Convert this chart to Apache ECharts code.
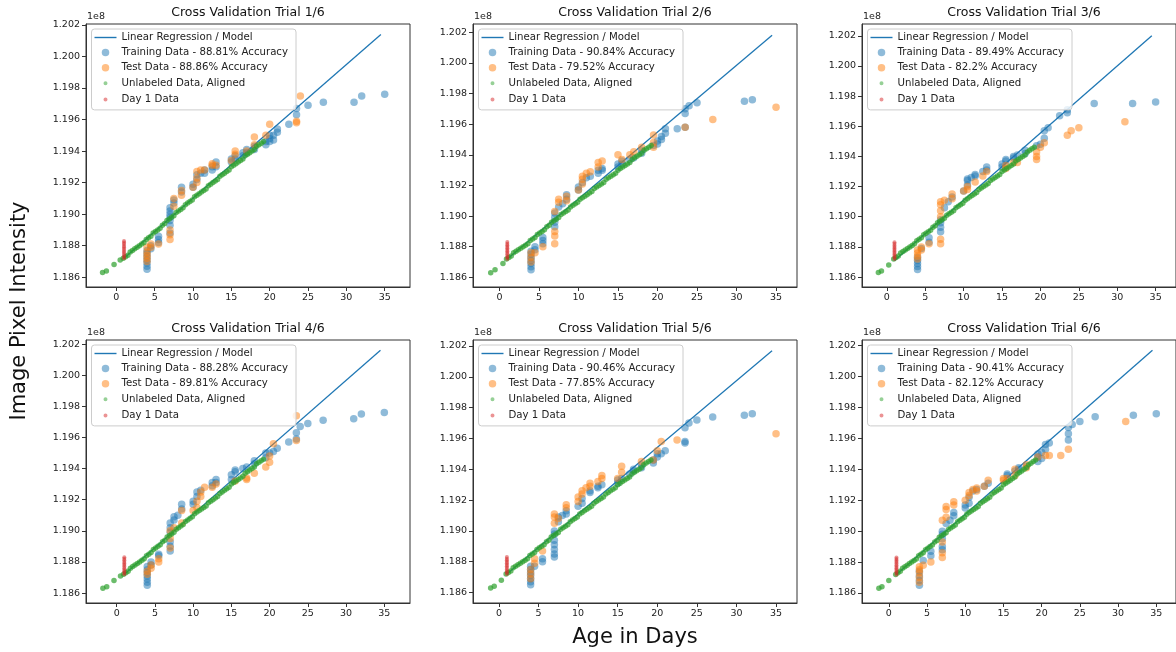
<!DOCTYPE html>
<html><head><meta charset="utf-8">
<script src="https://cdn.jsdelivr.net/npm/echarts@6/dist/echarts.min.js"></script>
<style>html,body{margin:0;padding:0;background:#fff}#c{width:1176px;height:652px}</style>
</head><body><div id="c"></div>
<script>
// ---------- data ----------
const xTicks = [0, 5, 10, 15, 20, 25, 30, 35];
const yTicks = [1.186, 1.188, 1.190, 1.192, 1.194, 1.196, 1.198, 1.200, 1.202];
const panelTitles = ['Cross Validation Trial 1/6','Cross Validation Trial 2/6','Cross Validation Trial 3/6','Cross Validation Trial 4/6','Cross Validation Trial 5/6','Cross Validation Trial 6/6'];
const trainAcc = ['88.81','90.84','89.49','88.28','90.46','90.41'];
const testAcc  = ['88.86','79.52','82.2','89.81','77.85','82.12'];
const yOffsetText = '1e8';
const xLabel = 'Age in Days';
const yLabel = 'Image Pixel Intensity';

const model1 = [[1,1.1872],[34.5,1.2014]];
const model2 = [[1,1.1872],[34.5,1.2018]];
const model3 = [[1,1.1871],[34.5,1.2020]];
const model4 = [[1,1.1872],[34.5,1.2016]];
const model5 = [[1,1.1872],[34.5,1.2017]];
const model6 = [[1,1.1872],[34.5,1.2017]];

const day1 = [[1,1.1872],[1,1.1873],[1,1.1874],[1,1.1875],[1,1.1876],[1,1.1877],[1,1.1878],[1,1.1879],[1,1.1880],[1,1.1881],[1,1.1882],[1,1.1883]];

const unlabeledBody = [[0.9,1.1872],[1.2,1.1873],[1.5,1.1874],[1.8,1.1876],[2.1,1.1877],[2.4,1.1878],[2.7,1.1879],[3.0,1.1880],[3.3,1.1881],[3.6,1.1882],[3.9,1.1884],[4.2,1.1885],[4.5,1.1886],[4.8,1.1888],[5.1,1.1889],[5.4,1.1890],[5.7,1.1891],[6.0,1.1893],[6.3,1.1894],[6.6,1.1896],[6.9,1.1897],[7.2,1.1898],[7.5,1.1899],[7.8,1.1901],[8.1,1.1902],[8.4,1.1903],[8.7,1.1904],[9.0,1.1906],[9.3,1.1907],[9.6,1.1908],[9.9,1.1909],[10.2,1.1911],[10.5,1.1912],[10.8,1.1913],[11.1,1.1914],[11.4,1.1915],[11.7,1.1916],[12.0,1.1918],[12.3,1.1919],[12.6,1.1920],[12.9,1.1921],[13.2,1.1922],[13.5,1.1924],[13.8,1.1925],[14.1,1.1926],[14.4,1.1927],[14.7,1.1928],[15.0,1.1930],[15.3,1.1931],[15.6,1.1932],[15.9,1.1933],[16.2,1.1934],[16.5,1.1935],[16.8,1.1937],[17.1,1.1938],[17.4,1.1939],[17.7,1.1940],[18.0,1.1941],[18.3,1.1943],[18.6,1.1944],[18.9,1.1945],[19.2,1.1946]];
const unlabeled1 = [[-1.8,1.1863],[-1.3,1.1864],[-0.3,1.1868],[0.5,1.1871]].concat(unlabeledBody);
const unlabeled2 = [[-1.1,1.1863],[-0.55,1.1865],[0.45,1.1869]].concat(unlabeledBody);
const unlabeled3 = [[-1.1,1.1863],[-0.7,1.1864],[0.25,1.1868]].concat(unlabeledBody);
const unlabeled4 = [[-1.8,1.1863],[-1.3,1.1864],[-0.35,1.1868],[0.5,1.1871]].concat(unlabeledBody);
const unlabeled5 = [[-1.05,1.1863],[-0.6,1.1864],[0.3,1.1868]].concat(unlabeledBody);
const unlabeled6 = [[-1.3,1.1863],[-0.9,1.1864],[0.0,1.1868]].concat(unlabeledBody);

const train1 = [[4,1.1865],[4,1.1867],[4,1.1869],[4,1.1871],[4,1.1873],[4,1.1875],[4,1.1877],[4.5,1.1878],[4.5,1.1880],[5.5,1.1882],[5.5,1.1884],[5.5,1.1886],[7,1.1888],[7,1.1893],[7,1.1896],[7,1.1898],[7,1.1900],[7,1.1902],[7,1.1904],[7.5,1.1907],[7.5,1.1909],[8.5,1.1914],[8.5,1.1917],[10,1.1917],[10,1.1919],[10.5,1.1922],[10.5,1.1925],[11,1.1926],[11.5,1.1926],[11.5,1.1928],[12.5,1.1928],[12.5,1.1930],[13,1.1930],[13,1.1933],[15,1.1933],[15,1.1935],[15.5,1.1935],[15.5,1.1937],[16.5,1.1937],[16.5,1.1939],[17,1.1939],[17,1.1941],[18,1.1941],[18,1.1943],[19.5,1.1944],[19.5,1.1946],[20,1.1946],[20,1.1948],[20,1.1950],[20.5,1.1947],[20.5,1.1950],[21,1.1952],[21,1.1954],[22.5,1.1957],[23.5,1.1963],[23.5,1.1967],[25,1.1969],[27,1.1971],[31,1.1971],[32,1.1975],[35,1.1976]];
const test1 = [[4,1.1870],[4,1.1872],[4,1.1874],[4,1.1876],[4,1.1879],[4.5,1.1879],[4.5,1.1881],[5.5,1.1881],[7,1.1884],[7,1.1887],[7,1.1890],[7.5,1.1905],[7.5,1.1910],[8.5,1.1912],[8.5,1.1915],[10,1.1917],[10.5,1.1920],[10.5,1.1923],[10.5,1.1927],[11,1.1928],[11.5,1.1928],[12.5,1.1931],[12.5,1.1932],[13,1.1931],[15,1.1934],[15.5,1.1938],[15.5,1.1940],[17,1.1940],[18,1.1944],[18,1.1949],[19.5,1.1950],[20,1.1957],[23.5,1.1958],[23.5,1.1959],[24,1.1975]];

const train2 = [[4,1.1865],[4,1.1867],[4,1.1869],[4,1.1871],[4,1.1873],[4,1.1875],[4,1.1877],[4.5,1.1878],[4.5,1.1880],[5.5,1.1882],[5.5,1.1884],[5.5,1.1886],[7,1.1893],[7,1.1896],[7,1.1899],[7,1.1902],[7.5,1.1906],[8,1.1908],[8.5,1.1911],[8.5,1.1914],[10,1.1917],[10,1.1919],[10.5,1.1922],[11,1.1925],[11.5,1.1926],[12.5,1.1928],[12.5,1.1930],[13,1.1930],[13,1.1931],[15,1.1932],[15,1.1934],[15.5,1.1934],[15.5,1.1936],[16.5,1.1937],[17,1.1938],[18,1.1941],[18,1.1943],[19.5,1.1946],[20,1.1947],[20,1.1949],[20.5,1.1950],[20.5,1.1952],[21,1.1954],[21,1.1957],[22.5,1.1957],[23.5,1.1958],[23.5,1.1967],[23.5,1.1970],[24,1.1972],[25,1.1974],[31,1.1975],[32,1.1976]];
const test2 = [[4,1.1870],[4,1.1873],[4,1.1876],[4.5,1.1876],[5.5,1.1880],[7,1.1882],[7,1.1887],[7,1.1890],[7,1.1903],[7.5,1.1909],[7.5,1.1911],[8.5,1.1910],[8.5,1.1913],[10,1.1917],[10.5,1.1921],[10.5,1.1924],[10.5,1.1926],[11,1.1928],[11.5,1.1929],[12.5,1.1932],[12.5,1.1935],[13,1.1936],[15,1.1940],[15.5,1.1937],[16.5,1.1940],[17,1.1942],[18,1.1945],[19.5,1.1945],[19.5,1.1948],[19.5,1.1953],[23.5,1.1958],[27,1.1963],[35,1.1971]];

const train3 = [[4,1.1865],[4,1.1867],[4,1.1869],[4,1.1871],[4,1.1873],[4.5,1.1879],[5.5,1.1883],[5.5,1.1886],[7,1.1890],[7,1.1893],[7,1.1896],[7,1.1898],[7.5,1.1906],[8,1.1910],[8.5,1.1913],[10,1.1917],[10.5,1.1921],[10.5,1.1924],[10.5,1.1925],[11,1.1926],[11.5,1.1927],[11.5,1.1928],[12.5,1.1930],[13,1.1931],[13,1.1933],[15,1.1933],[15,1.1935],[15.5,1.1937],[15.5,1.1938],[16.5,1.1939],[16.5,1.1940],[17,1.1941],[18,1.1942],[18,1.1944],[19.5,1.1947],[20,1.1948],[20.5,1.1952],[20.5,1.1957],[21,1.1959],[22.5,1.1967],[23.5,1.1969],[23.5,1.1971],[27,1.1975],[32,1.1975],[35,1.1976]];
const test3 = [[4,1.1872],[4,1.1874],[4,1.1876],[4,1.1878],[4.5,1.1878],[4.5,1.1880],[5.5,1.1882],[7,1.1882],[7,1.1885],[7,1.1900],[7,1.1904],[7,1.1908],[7,1.1910],[7.5,1.1911],[8.5,1.1912],[8.5,1.1915],[10,1.1917],[10.5,1.1918],[10.5,1.1920],[11.5,1.1923],[12.5,1.1927],[13,1.1930],[15.5,1.1932],[15.5,1.1934],[16.5,1.1936],[17,1.1936],[19.5,1.1938],[19.5,1.1940],[19.5,1.1943],[20,1.1946],[20.5,1.1949],[23.5,1.1954],[24,1.1957],[25,1.1959],[31,1.1963]];

const train4 = [[4,1.1865],[4,1.1867],[4,1.1869],[4,1.1871],[4,1.1873],[4,1.1875],[4,1.1877],[4.5,1.1878],[4.5,1.1880],[5.5,1.1884],[5.5,1.1885],[7,1.1887],[7,1.1890],[7,1.1893],[7,1.1899],[7,1.1902],[7,1.1905],[7.5,1.1907],[7.5,1.1909],[8,1.1910],[8.5,1.1914],[8.5,1.1917],[10,1.1917],[10,1.1919],[10.5,1.1922],[10.5,1.1925],[11,1.1926],[12.5,1.1929],[12.5,1.1931],[13,1.1931],[13,1.1933],[15,1.1933],[15,1.1936],[15.5,1.1938],[15.5,1.1939],[16.5,1.1940],[17,1.1941],[18,1.1943],[18,1.1945],[19.5,1.1947],[19.5,1.1950],[20,1.1950],[20.5,1.1951],[21,1.1953],[22.5,1.1957],[23.5,1.1959],[23.5,1.1963],[24,1.1967],[25,1.1969],[27,1.1971],[31,1.1972],[32,1.1975],[35,1.1976]];
const test4 = [[4,1.1872],[4,1.1874],[4.5,1.1876],[4.5,1.1878],[5.5,1.1880],[5.5,1.1882],[7,1.1889],[7,1.1895],[7,1.1900],[7.5,1.1902],[8.5,1.1905],[8.5,1.1913],[10,1.1913],[10.5,1.1915],[10.5,1.1919],[11,1.1922],[11,1.1925],[11.5,1.1928],[12.5,1.1928],[13,1.1930],[15.5,1.1932],[17,1.1933],[17,1.1934],[18,1.1937],[19.5,1.1941],[20,1.1944],[20,1.1948],[20.5,1.1956],[23.5,1.1958],[23.5,1.1974]];

const train5 = [[4,1.1865],[4,1.1867],[4,1.1869],[4,1.1871],[4,1.1873],[4,1.1875],[4,1.1877],[4.5,1.1877],[5.5,1.1880],[5.5,1.1882],[7,1.1883],[7,1.1885],[7,1.1888],[7,1.1891],[7,1.1894],[7,1.1898],[7,1.1900],[7.5,1.1906],[7.5,1.1909],[8,1.1910],[8.5,1.1911],[8.5,1.1913],[10,1.1916],[10.5,1.1918],[10.5,1.1921],[11.5,1.1925],[11.5,1.1926],[12.5,1.1928],[12.5,1.1929],[13,1.1930],[15,1.1931],[15,1.1933],[15.5,1.1934],[16.5,1.1937],[17,1.1939],[17,1.1940],[18,1.1941],[18,1.1943],[19.5,1.1944],[19.5,1.1946],[20,1.1948],[20,1.1950],[20.5,1.1950],[21,1.1952],[23.5,1.1957],[23.5,1.1958],[23.5,1.1967],[24,1.1970],[25,1.1972],[27,1.1974],[31,1.1975],[32,1.1976]];
const test5 = [[4,1.1869],[4,1.1872],[4,1.1875],[4.5,1.1879],[4.5,1.1882],[5.5,1.1887],[7,1.1905],[7,1.1909],[7,1.1911],[7.5,1.1908],[8.5,1.1915],[8.5,1.1917],[10,1.1919],[10,1.1922],[10.5,1.1924],[10.5,1.1926],[11,1.1928],[11.5,1.1929],[11.5,1.1931],[12.5,1.1932],[13,1.1934],[13,1.1936],[15,1.1934],[15.5,1.1938],[15.5,1.1942],[18,1.1945],[19.5,1.1946],[20,1.1952],[20.5,1.1958],[22.5,1.1959],[35,1.1963]];

const train6 = [[4,1.1865],[4,1.1868],[4,1.1871],[4,1.1874],[4.5,1.1881],[5.5,1.1884],[5.5,1.1887],[7,1.1888],[7,1.1890],[7,1.1895],[7,1.1898],[7,1.1900],[7.5,1.1905],[8,1.1907],[8.5,1.1910],[8.5,1.1912],[10,1.1915],[10,1.1917],[10.5,1.1918],[10.5,1.1922],[11,1.1926],[11.5,1.1927],[12.5,1.1929],[13,1.1931],[15.5,1.1936],[15.5,1.1937],[16.5,1.1939],[17,1.1940],[17,1.1941],[18,1.1942],[19.5,1.1945],[19.5,1.1948],[19.5,1.1950],[20,1.1947],[20,1.1951],[20.5,1.1953],[20.5,1.1956],[21,1.1957],[23.5,1.1959],[23.5,1.1963],[23.5,1.1967],[24,1.1969],[25,1.1971],[27,1.1974],[32,1.1975],[35,1.1976]];
const test6 = [[4,1.1867],[4,1.1870],[4,1.1873],[4,1.1875],[4,1.1877],[4.5,1.1878],[5.5,1.1880],[7,1.1883],[7,1.1886],[7,1.1893],[7,1.1907],[7.5,1.1909],[7.5,1.1914],[7.5,1.1916],[8.5,1.1917],[8.5,1.1919],[10,1.1920],[10.5,1.1923],[10.5,1.1925],[11,1.1927],[11.5,1.1926],[11.5,1.1928],[12.5,1.1929],[13,1.1933],[15,1.1933],[15,1.1934],[15.5,1.1934],[16.5,1.1936],[16.5,1.1940],[18,1.1941],[18,1.1943],[19.5,1.1948],[20.5,1.1949],[21,1.1949],[22.5,1.1949],[23.5,1.1953],[31,1.1971]];

// ---------- layout ----------
const models = [model1, model2, model3, model4, model5, model6];
const unlabeledSets = [unlabeled1, unlabeled2, unlabeled3, unlabeled4, unlabeled5, unlabeled6];
const trainSets = [train1, train2, train3, train4, train5, train6];
const testSets = [test1, test2, test3, test4, test5, test6];

const gridBoxes = [
  {left: 86,  top: 24,  width: 324, height: 263},
  {left: 473, top: 24,  width: 324, height: 263},
  {left: 862, top: 24,  width: 324, height: 263},
  {left: 86,  top: 340, width: 324, height: 263},
  {left: 473, top: 340, width: 324, height: 263},
  {left: 862, top: 340, width: 324, height: 263}
];
const xRanges = [[-3.96,38.3],[-3.34,37.65],[-3.23,37.65],[-4.01,38.36],[-3.28,37.65],[-3.51,37.58]];
const yRanges = [[1.18538,1.20206],[1.18537,1.20254],[1.18534,1.20278],[1.18536,1.20226],[1.18532,1.20239],[1.18535,1.20237]];

const FONT = 'DejaVu Sans';
const C_BLUE = '#1f77b4', C_ORANGE = '#ff7f0e', C_GREEN = '#2ca02c', C_RED = '#d62728';
const LINE_NAME = 'Linear Regression / Model';
const UNL_NAME = 'Unlabeled Data, Aligned';
const DAY1_NAME = 'Day 1 Data';

const grids = [], xAxes = [], yAxes = [], series = [], legends = [], graphics = [];

for (let i = 0; i < 6; i++) {
  const g = gridBoxes[i];
  grids.push(Object.assign({show: true, borderColor: '#333', borderWidth: 1, backgroundColor: '#fff'}, g));
  xAxes.push({
    type: 'value', gridIndex: i, min: xRanges[i][0], max: xRanges[i][1],
    splitLine: {show: false},
    axisLine: {onZero: false, lineStyle: {color: '#333', width: 1}},
    axisTick: {customValues: xTicks, length: 4, lineStyle: {color: '#333'}},
    axisLabel: {customValues: xTicks, fontSize: 9.5, color: '#222', margin: 6, fontFamily: FONT}
  });
  yAxes.push({
    type: 'value', gridIndex: i, min: yRanges[i][0], max: yRanges[i][1],
    splitLine: {show: false},
    axisLine: {onZero: false, lineStyle: {color: '#333', width: 1}},
    axisTick: {customValues: yTicks, length: 4, lineStyle: {color: '#333'}},
    axisLabel: {customValues: yTicks, fontSize: 9.5, color: '#222', margin: 6, fontFamily: FONT,
      formatter: v => v.toFixed(3)}
  });
  const trName = 'Training Data - ' + trainAcc[i] + '% Accuracy';
  const teName = 'Test Data - ' + testAcc[i] + '% Accuracy';
  series.push({
    name: LINE_NAME, type: 'line', xAxisIndex: i, yAxisIndex: i, data: models[i],
    symbol: 'none', lineStyle: {color: C_BLUE, width: 1.3}, itemStyle: {color: C_BLUE}, z: 2, silent: true
  });
  series.push({
    name: trName, type: 'scatter', xAxisIndex: i, yAxisIndex: i, data: trainSets[i],
    symbolSize: 7.5, itemStyle: {color: C_BLUE, opacity: 0.5}, z: 3, silent: true
  });
  series.push({
    name: teName, type: 'scatter', xAxisIndex: i, yAxisIndex: i, data: testSets[i],
    symbolSize: 7.5, itemStyle: {color: C_ORANGE, opacity: 0.5}, z: 4, silent: true
  });
  series.push({
    name: UNL_NAME, type: 'scatter', xAxisIndex: i, yAxisIndex: i, data: unlabeledSets[i],
    symbolSize: 5.5, itemStyle: {color: C_GREEN, opacity: 0.7}, z: 5, silent: true
  });
  series.push({
    name: DAY1_NAME, type: 'scatter', xAxisIndex: i, yAxisIndex: i, data: day1,
    symbolSize: 4, itemStyle: {color: C_RED, opacity: 0.5}, z: 6, silent: true
  });
  legends.push({
    orient: 'vertical', left: g.left + 5.5, top: g.top + 5,
    itemWidth: 22, itemHeight: 7.5, itemGap: 5.1, padding: [3.5, 8, 5, 3],
    backgroundColor: 'rgba(255,255,255,0.8)', borderColor: '#cccccc', borderWidth: 1, borderRadius: 3,
    selectedMode: false, z: 10,
    textStyle: {fontSize: 10.2, color: '#222', fontFamily: FONT},
    data: [
      {name: LINE_NAME, icon: 'path://M0,0H22V1.4H0Z', itemStyle: {color: C_BLUE, opacity: 1}},
      {name: trName, icon: 'circle', itemStyle: {opacity: 0.5}},
      {name: teName, icon: 'circle', itemStyle: {opacity: 0.5}},
      {name: UNL_NAME, icon: 'circle', itemStyle: {color: '#96d096', opacity: 1, borderColor: '#ffffff', borderWidth: 3.5}},
      {name: DAY1_NAME, icon: 'circle', itemStyle: {color: '#eb9394', opacity: 1, borderColor: '#ffffff', borderWidth: 3.5}}
    ]
  });
  graphics.push({
    type: 'text', x: g.left + g.width / 2, y: g.top - 11,
    style: {text: panelTitles[i], fontSize: 12.5, fill: '#111', fontFamily: FONT, align: 'center', verticalAlign: 'middle'}
  });
  graphics.push({
    type: 'text', x: g.left + 1, y: g.top - 7,
    style: {text: yOffsetText, fontSize: 9.5, fill: '#222', fontFamily: FONT, align: 'left', verticalAlign: 'middle'}
  });
}
graphics.push({
  type: 'text', x: 20, y: 311, rotation: Math.PI / 2,
  style: {text: yLabel, fontSize: 21, fill: '#111', fontFamily: FONT, align: 'center', verticalAlign: 'middle'}
});
graphics.push({
  type: 'text', x: 635, y: 638,
  style: {text: xLabel, fontSize: 21, fill: '#111', fontFamily: FONT, align: 'center', verticalAlign: 'middle'}
});

const chart = echarts.init(document.getElementById('c'), null, {renderer: 'canvas'});
chart.setOption({
  backgroundColor: '#fff',
  animation: false,
  grid: grids, xAxis: xAxes, yAxis: yAxes, series: series, legend: legends, graphic: graphics
});
</script></body></html>
